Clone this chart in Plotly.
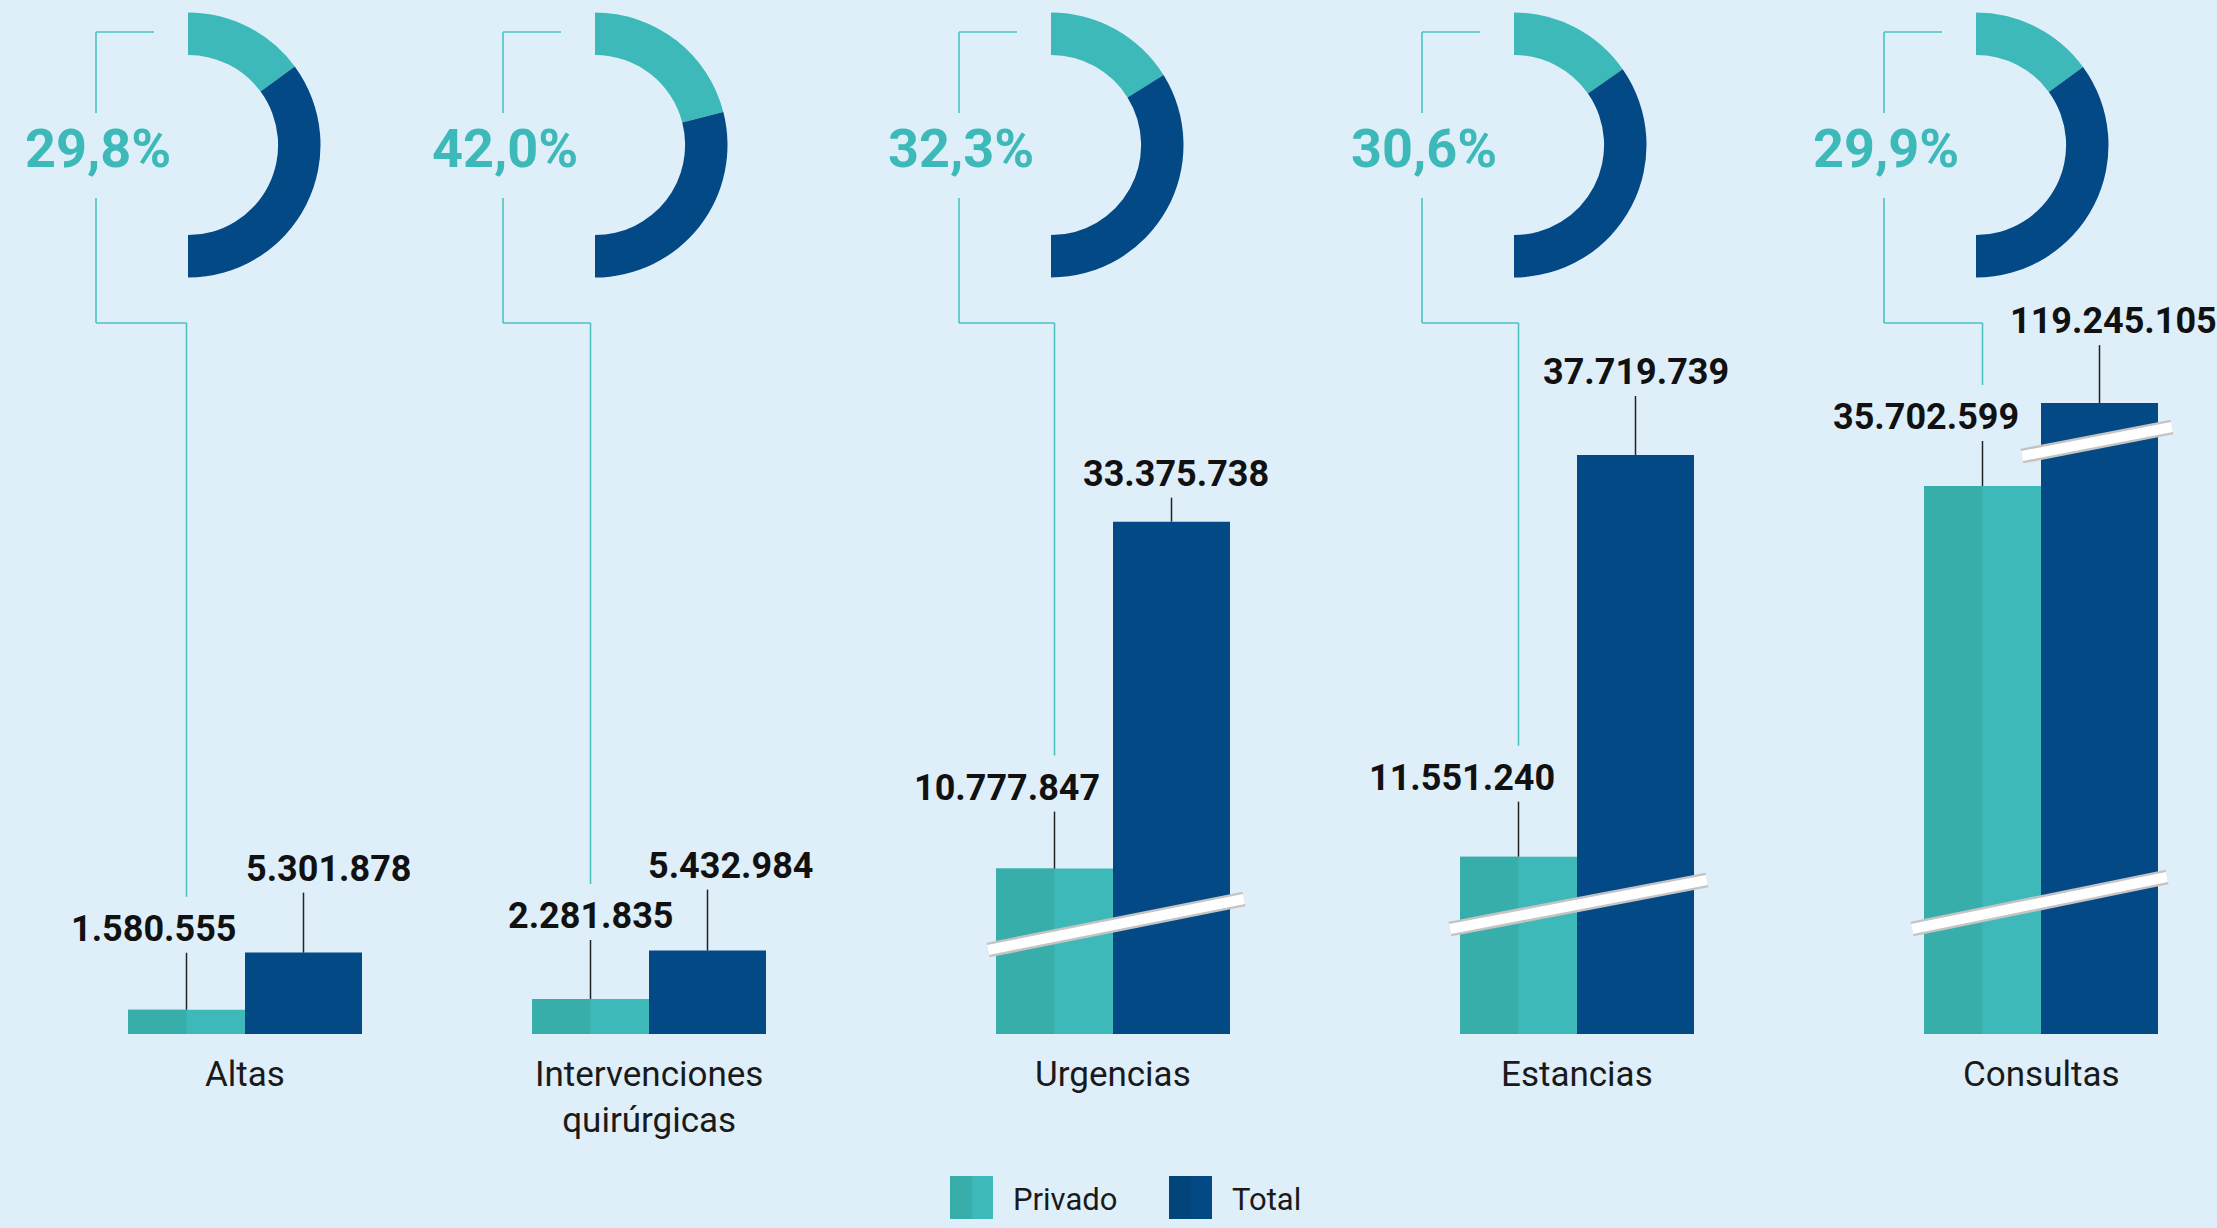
import plotly.graph_objects as go

# ---------------- data ----------------
categories = ["Altas", "Intervenciones<br>quirúrgicas", "Urgencias", "Estancias", "Consultas"]
privado = [1580555, 2281835, 10777847, 11551240, 35702599]
total = [5301878, 5432984, 33375738, 37719739, 119245105]
series_names = ["Privado", "Total"]

# ---------------- layout constants (pixels) ----------------
W, H = 2217, 1228
BASE = 1034            # baseline of bars, px from top
SCALE = 15.35          # px per million
CAT_X = [245, 649, 1113, 1577, 2041]
DONUT_X = [188, 595, 1051, 1514, 1976]
BAR_W = 117
CAP = 41.1e6           # axis break for the tallest bar

TEAL = "#3CB9B8"
TEAL_D = "#38AEAB"
NAVY = "#034985"
NAVY_D = "#02457A"
LINE_TEAL = "#4CC2C1"
BG = "#DFEFF9"
TXT = "#111111"

LBL_PRIV_DX = [-33, 0, -48, -57, -57]
LBL_TOT_DX = [25, 23, 4, 0, 14]
LBL_PRIV_UP = [81, 83, 81, 79, 69]
LBL_TOT_UP = [84, 85, 48, 83, 82]
LEAD_GAP = 24
TEAL_GAP = 32

DONUT_CY = 145
DONUT_R = 132.5

# break marks: (category index, dx0, height0 above base, dx1, height1)
BREAKS = [(2, -125, 84, 131, 135),
          (3, -127, 105, 130, 154),
          (4, -129, 105, 126, 157),
          (4, -19, 578, 131, 607)]


def ypx(px):
    return (BASE - px) / SCALE * 1e6


def lift(v, px):
    return v + px / SCALE * 1e6


def fmt(v):
    return f"{v:,}".replace(",", ".")


fig = go.Figure()

total_drawn = [min(v, CAP) for v in total]

fig.add_trace(go.Bar(x=CAT_X, y=privado, offset=-BAR_W, width=BAR_W,
                     marker=dict(color=TEAL, line=dict(width=0)),
                     name=series_names[0], hoverinfo="skip", showlegend=False))
fig.add_trace(go.Bar(x=CAT_X, y=privado, offset=-BAR_W, width=BAR_W / 2,
                     marker=dict(color=TEAL_D, line=dict(width=0)),
                     hoverinfo="skip", showlegend=False))
fig.add_trace(go.Bar(x=CAT_X, y=total_drawn, offset=0, width=BAR_W,
                     marker=dict(color=NAVY, line=dict(width=0)),
                     name=series_names[1], hoverinfo="skip", showlegend=False))

shapes = []
annotations = []

for i, cx_cat in enumerate(CAT_X):
    pv = privado[i]
    tv = total_drawn[i]
    xp = cx_cat - BAR_W / 2
    xt = cx_cat + BAR_W / 2
    # number labels
    annotations.append(dict(x=xp, y=pv, xref="x", yref="y", text=fmt(privado[i]),
                            showarrow=False, xshift=LBL_PRIV_DX[i], yshift=LBL_PRIV_UP[i],
                            xanchor="center", yanchor="middle",
                            font=dict(family="Roboto", size=36, color=TXT, weight=700)))
    annotations.append(dict(x=xt, y=tv, xref="x", yref="y", text=fmt(total[i]),
                            showarrow=False, xshift=LBL_TOT_DX[i], yshift=LBL_TOT_UP[i],
                            xanchor="center", yanchor="middle",
                            font=dict(family="Roboto", size=36, color=TXT, weight=700)))
    # leader lines
    shapes.append(dict(type="line", xref="x", yref="y", x0=xp, x1=xp,
                       y0=pv, y1=lift(pv, LBL_PRIV_UP[i] - LEAD_GAP),
                       line=dict(color="#222222", width=1.5)))
    shapes.append(dict(type="line", xref="x", yref="y", x0=xt, x1=xt,
                       y0=tv, y1=lift(tv, LBL_TOT_UP[i] - LEAD_GAP),
                       line=dict(color="#222222", width=1.5)))
    # category label
    annotations.append(dict(x=cx_cat, y=1 - 1052 / H, xref="x", yref="paper",
                            text=categories[i], showarrow=False,
                            xanchor="center", yanchor="top",
                            font=dict(family="Roboto", size=35, color="#1a1a1a")))
    # donut
    cx = DONUT_X[i]
    p = privado[i] / total[i]
    fig.add_trace(go.Pie(values=[p, 1 - p, 1], sort=False, direction="clockwise",
                         rotation=0, hole=0.68, textinfo="none", hoverinfo="skip",
                         showlegend=False,
                         marker=dict(colors=[TEAL, NAVY, "rgba(0,0,0,0)"],
                                     line=dict(width=0)),
                         domain=dict(x=[(cx - DONUT_R) / W, (cx + DONUT_R) / W],
                                     y=[1 - (DONUT_CY + DONUT_R) / H, 1 - (DONUT_CY - DONUT_R) / H])))
    pct = f"{p * 100:.1f}".replace(".", ",") + "%"
    annotations.append(dict(x=cx - 90, y=ypx(148), xref="x", yref="y", text=pct,
                            showarrow=False, xanchor="center", yanchor="middle",
                            font=dict(family="Roboto", size=54, color=TEAL, weight=700)))
    # teal bracket
    lt = dict(color=LINE_TEAL, width=1.6)
    bx = cx - 92
    shapes.append(dict(type="line", xref="x", yref="y", x0=bx, x1=cx - 34,
                       y0=ypx(32), y1=ypx(32), line=lt))
    shapes.append(dict(type="line", xref="x", yref="y", x0=bx, x1=bx,
                       y0=ypx(32), y1=ypx(113), line=lt))
    shapes.append(dict(type="line", xref="x", yref="y", x0=bx, x1=bx,
                       y0=ypx(198), y1=ypx(323), line=lt))
    shapes.append(dict(type="line", xref="x", yref="y", x0=bx, x1=xp,
                       y0=ypx(323), y1=ypx(323), line=lt))
    shapes.append(dict(type="line", xref="x", yref="y", x0=xp, x1=xp,
                       y0=ypx(323), y1=lift(pv, LBL_PRIV_UP[i] + TEAL_GAP), line=lt))

# break marks
for (ci, dx0, h0, dx1, h1) in BREAKS:
    x0 = CAT_X[ci] + dx0
    x1 = CAT_X[ci] + dx1
    y0 = ypx(BASE - h0)
    y1 = ypx(BASE - h1)
    shapes.append(dict(type="line", xref="x", yref="y", x0=x0, x1=x1, y0=y0, y1=y1,
                       line=dict(color="#C4C4C4", width=15)))
    shapes.append(dict(type="line", xref="x", yref="y", x0=x0, x1=x1, y0=y0, y1=y1,
                       line=dict(color="#FFFFFF", width=10)))

# legend (manual)
LEG = [(950, TEAL_D, TEAL), (1169, NAVY_D, NAVY)]
for k, (lx, cdark, clight) in enumerate(LEG):
    shapes.append(dict(type="rect", xref="x", yref="paper", x0=lx, x1=lx + 22,
                       y0=1 - 1219 / H, y1=1 - 1176 / H, fillcolor=cdark, line=dict(width=0)))
    shapes.append(dict(type="rect", xref="x", yref="paper", x0=lx + 22, x1=lx + 43,
                       y0=1 - 1219 / H, y1=1 - 1176 / H, fillcolor=clight, line=dict(width=0)))
    annotations.append(dict(x=lx + 61, y=1 - 1199 / H, xref="x", yref="paper",
                            text=series_names[k], showarrow=False,
                            xanchor="left", yanchor="middle",
                            font=dict(family="Roboto", size=31, color="#1a1a1a")))

fig.update_layout(
    width=W, height=H,
    margin=dict(l=0, r=0, t=0, b=0),
    paper_bgcolor=BG, plot_bgcolor=BG,
    barmode="overlay",
    showlegend=False,
    xaxis=dict(range=[0, W], visible=False, fixedrange=True),
    yaxis=dict(range=[0, ypx(0)], domain=[1 - BASE / H, 1], visible=False, fixedrange=True),
    shapes=shapes,
    annotations=annotations,
)

fig.write_html("out.html", config={"displayModeBar": False},
               post_script="document.body.style.margin='0';document.body.style.overflow='hidden';")
